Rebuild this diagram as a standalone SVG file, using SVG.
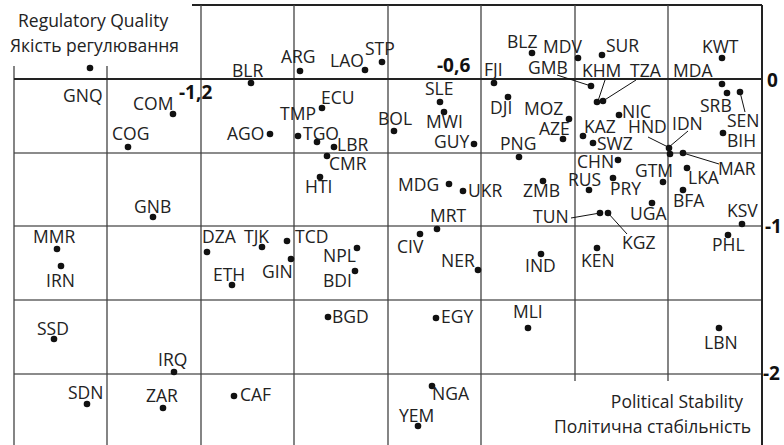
<svg xmlns="http://www.w3.org/2000/svg" width="784" height="445" viewBox="0 0 784 445">
<style>
.bg{fill:#fff}
.g{stroke:#444;stroke-width:1.3;fill:none}
.gh{stroke:#666;stroke-width:1.3;fill:none}
.ax{stroke:#222;stroke-width:2;fill:none}
.lead{stroke:#111;stroke-width:1;fill:none}
text{font-family:"Open Sans","Liberation Sans",sans-serif;fill:#222}
.lb{font-size:17.5px}
.t{font-size:17.5px}
.tk{font-size:19px;font-weight:bold;fill:#111}
circle{fill:#111}
</style>
<rect class="bg" x="0" y="0" width="784" height="445"/>
<g id="grid">
<path class="ax" d="M192 5H762"/>
<path class="gh" d="M14 153H762M14 226H762M14 300H762M14 374H762"/>
<path class="g" d="M14 66V445M107 66V445M201 5V445M294 5V445M388 5V445M481 5V445M575 5V381M668 5V381"/>
<path class="ax" d="M14 79H762M762 5V445"/>
</g>
<g id="axis-labels">
<text class="t" x="18" y="27">Regulatory Quality</text>
<text class="t" x="10" y="52">Якість регулювання</text>
<text class="t" x="743" y="408" text-anchor="end">Political Stability</text>
<text class="t" x="751" y="433" text-anchor="end">Політична стабільність</text>
<text class="tk" x="179" y="99">-1,2</text>
<text class="tk" x="437" y="72">-0,6</text>
<text class="tk" x="767" y="87">0</text>
<text class="tk" x="765" y="233">-1</text>
<text class="tk" x="763" y="380">-2</text>
</g>
<g id="connectors">
<path class="lead" d="M557 75L591 86"/>
<path class="lead" d="M605 80L598 101"/>
<path class="lead" d="M636 80L603 101"/>
<path class="lead" d="M740 92L745 112"/>
<path class="lead" d="M648 137L668 147"/>
<path class="lead" d="M688 131L669 147"/>
<path class="lead" d="M683 153L719 164"/>
<path class="lead" d="M571 218L600 213"/>
<path class="lead" d="M608 213L627 234"/>
</g>
<g id="GNQ"><circle cx="90" cy="68" r="3.3"/><text class="lb" x="63" y="102">GNQ</text></g>
<g id="COM"><circle cx="173" cy="114" r="3.3"/><text class="lb" x="133" y="110">COM</text></g>
<g id="COG"><circle cx="128" cy="147" r="3.3"/><text class="lb" x="112" y="140">COG</text></g>
<g id="BLR"><circle cx="251" cy="83" r="3.3"/><text class="lb" x="232" y="77">BLR</text></g>
<g id="ARG"><circle cx="300" cy="71" r="3.3"/><text class="lb" x="281" y="63">ARG</text></g>
<g id="LAO"><circle cx="365" cy="70" r="3.3"/><text class="lb" x="330" y="67">LAO</text></g>
<g id="STP"><circle cx="382" cy="62" r="3.3"/><text class="lb" x="365" y="55">STP</text></g>
<g id="FJI"><circle cx="494" cy="83" r="3.3"/><text class="lb" x="484" y="76">FJI</text></g>
<g id="BLZ"><circle cx="532" cy="53" r="3.3"/><text class="lb" x="507" y="48">BLZ</text></g>
<g id="MDV"><circle cx="578" cy="58" r="3.3"/><text class="lb" x="543" y="53">MDV</text></g>
<g id="SUR"><circle cx="602" cy="55" r="3.3"/><text class="lb" x="606" y="52">SUR</text></g>
<g id="KWT"><circle cx="722" cy="58" r="3.3"/><text class="lb" x="702" y="53">KWT</text></g>
<g id="GMB"><circle cx="591" cy="86" r="3.3"/><text class="lb" x="528" y="74">GMB</text></g>
<g id="KHM"><circle cx="597" cy="102" r="3.3"/><text class="lb" x="582" y="77">KHM</text></g>
<g id="TZA"><circle cx="603" cy="101" r="3.3"/><text class="lb" x="630" y="77">TZA</text></g>
<g id="MDA"><circle cx="722" cy="84" r="3.3"/><text class="lb" x="673" y="77">MDA</text></g>
<g id="SRB"><circle cx="727" cy="93" r="3.3"/><text class="lb" x="700" y="112">SRB</text></g>
<g id="SEN"><circle cx="740" cy="92" r="3.3"/><text class="lb" x="727" y="127">SEN</text></g>
<g id="BIH"><circle cx="723" cy="133" r="3.3"/><text class="lb" x="727" y="147">BIH</text></g>
<g id="NIC"><circle cx="619" cy="115" r="3.3"/><text class="lb" x="622" y="118">NIC</text></g>
<g id="MOZ"><circle cx="569" cy="119" r="3.3"/><text class="lb" x="524" y="115">MOZ</text></g>
<g id="AZE"><circle cx="563" cy="139" r="3.3"/><text class="lb" x="539" y="135">AZE</text></g>
<g id="KAZ"><circle cx="583" cy="136" r="3.3"/><text class="lb" x="584" y="133">KAZ</text></g>
<g id="SWZ"><circle cx="593" cy="143" r="3.3"/><text class="lb" x="597" y="150">SWZ</text></g>
<g id="PNG"><circle cx="519" cy="157" r="3.3"/><text class="lb" x="500" y="150">PNG</text></g>
<g id="DJI"><circle cx="508" cy="97" r="3.3"/><text class="lb" x="490" y="114">DJI</text></g>
<g id="SLE"><circle cx="440" cy="102" r="3.3"/><text class="lb" x="425" y="95">SLE</text></g>
<g id="MWI"><circle cx="444" cy="112" r="3.3"/><text class="lb" x="426" y="128">MWI</text></g>
<g id="GUY"><circle cx="474" cy="144" r="3.3"/><text class="lb" x="434" y="148">GUY</text></g>
<g id="BOL"><circle cx="394" cy="131" r="3.3"/><text class="lb" x="378" y="125">BOL</text></g>
<g id="ECU"><circle cx="322" cy="108" r="3.3"/><text class="lb" x="321" y="104">ECU</text></g>
<g id="TMP"><circle cx="317" cy="142" r="3.3"/><text class="lb" x="280" y="120">TMP</text></g>
<g id="TGO"><circle cx="298" cy="136" r="3.3"/><text class="lb" x="303" y="140">TGO</text></g>
<g id="LBR"><circle cx="334" cy="147" r="3.3"/><text class="lb" x="337" y="151">LBR</text></g>
<g id="AGO"><circle cx="270" cy="134" r="3.3"/><text class="lb" x="227" y="140">AGO</text></g>
<g id="CMR"><circle cx="327" cy="156" r="3.3"/><text class="lb" x="329" y="170">CMR</text></g>
<g id="HTI"><circle cx="320" cy="177" r="3.3"/><text class="lb" x="305" y="193">HTI</text></g>
<g id="MDG"><circle cx="449" cy="184" r="3.3"/><text class="lb" x="398" y="191">MDG</text></g>
<g id="UKR"><circle cx="463" cy="191" r="3.3"/><text class="lb" x="468" y="197">UKR</text></g>
<g id="MRT"><circle cx="437" cy="229" r="3.3"/><text class="lb" x="430" y="222">MRT</text></g>
<g id="CIV"><circle cx="420" cy="234" r="3.3"/><text class="lb" x="397" y="253">CIV</text></g>
<g id="NER"><circle cx="478" cy="270" r="3.3"/><text class="lb" x="441" y="267">NER</text></g>
<g id="ZMB"><circle cx="543" cy="181" r="3.3"/><text class="lb" x="523" y="197">ZMB</text></g>
<g id="CHN"><circle cx="618" cy="160" r="3.3"/><text class="lb" x="577" y="168">CHN</text></g>
<g id="RUS"><circle cx="589" cy="190" r="3.3"/><text class="lb" x="568" y="186">RUS</text></g>
<g id="PRY"><circle cx="613" cy="178" r="3.3"/><text class="lb" x="610" y="195">PRY</text></g>
<g id="GTM"><circle cx="663" cy="182" r="3.3"/><text class="lb" x="635" y="177">GTM</text></g>
<g id="HND"><circle cx="669" cy="148" r="3.3"/><text class="lb" x="628" y="133">HND</text></g>
<g id="IDN"><circle cx="670" cy="154" r="3.3"/><text class="lb" x="672" y="130">IDN</text></g>
<g id="MAR"><circle cx="683" cy="153" r="3.3"/><text class="lb" x="718" y="175">MAR</text></g>
<g id="LKA"><circle cx="687" cy="168" r="3.3"/><text class="lb" x="688" y="184">LKA</text></g>
<g id="BFA"><circle cx="683" cy="190" r="3.3"/><text class="lb" x="673" y="207">BFA</text></g>
<g id="UGA"><circle cx="652" cy="203" r="3.3"/><text class="lb" x="630" y="220">UGA</text></g>
<g id="TUN"><circle cx="600" cy="213" r="3.3"/><text class="lb" x="533" y="223">TUN</text></g>
<g id="KGZ"><circle cx="608" cy="213" r="3.3"/><text class="lb" x="622" y="249">KGZ</text></g>
<g id="KSV"><circle cx="742" cy="224" r="3.3"/><text class="lb" x="727" y="217">KSV</text></g>
<g id="PHL"><circle cx="728" cy="235" r="3.3"/><text class="lb" x="712" y="251">PHL</text></g>
<g id="KEN"><circle cx="597" cy="248" r="3.3"/><text class="lb" x="581" y="267">KEN</text></g>
<g id="IND"><circle cx="541" cy="254" r="3.3"/><text class="lb" x="525" y="272">IND</text></g>
<g id="GNB"><circle cx="153" cy="217" r="3.3"/><text class="lb" x="134" y="213">GNB</text></g>
<g id="MMR"><circle cx="57" cy="249" r="3.3"/><text class="lb" x="33" y="243">MMR</text></g>
<g id="IRN"><circle cx="61" cy="266" r="3.3"/><text class="lb" x="46" y="287">IRN</text></g>
<g id="DZA"><circle cx="207" cy="252" r="3.3"/><text class="lb" x="202" y="243">DZA</text></g>
<g id="TJK"><circle cx="262" cy="247" r="3.3"/><text class="lb" x="244" y="243">TJK</text></g>
<g id="ETH"><circle cx="232" cy="285" r="3.3"/><text class="lb" x="213" y="281">ETH</text></g>
<g id="TCD"><circle cx="287" cy="241" r="3.3"/><text class="lb" x="295" y="243">TCD</text></g>
<g id="GIN"><circle cx="291" cy="259" r="3.3"/><text class="lb" x="262" y="278">GIN</text></g>
<g id="NPL"><circle cx="357" cy="248" r="3.3"/><text class="lb" x="323" y="262">NPL</text></g>
<g id="BDI"><circle cx="355" cy="271" r="3.3"/><text class="lb" x="323" y="287">BDI</text></g>
<g id="SSD"><circle cx="54" cy="339" r="3.3"/><text class="lb" x="37" y="335">SSD</text></g>
<g id="IRQ"><circle cx="174" cy="372" r="3.3"/><text class="lb" x="158" y="366">IRQ</text></g>
<g id="SDN"><circle cx="87" cy="404" r="3.3"/><text class="lb" x="68" y="399">SDN</text></g>
<g id="ZAR"><circle cx="163" cy="408" r="3.3"/><text class="lb" x="146" y="402">ZAR</text></g>
<g id="CAF"><circle cx="234" cy="396" r="3.3"/><text class="lb" x="240" y="401">CAF</text></g>
<g id="BGD"><circle cx="328" cy="317" r="3.3"/><text class="lb" x="332" y="323">BGD</text></g>
<g id="EGY"><circle cx="436" cy="318" r="3.3"/><text class="lb" x="441" y="323">EGY</text></g>
<g id="NGA"><circle cx="432" cy="386" r="3.3"/><text class="lb" x="432" y="400">NGA</text></g>
<g id="YEM"><circle cx="418" cy="426" r="3.3"/><text class="lb" x="399" y="422">YEM</text></g>
<g id="MLI"><circle cx="528" cy="328" r="3.3"/><text class="lb" x="513" y="318">MLI</text></g>
<g id="LBN"><circle cx="719" cy="328" r="3.3"/><text class="lb" x="704" y="349">LBN</text></g>
</svg>
